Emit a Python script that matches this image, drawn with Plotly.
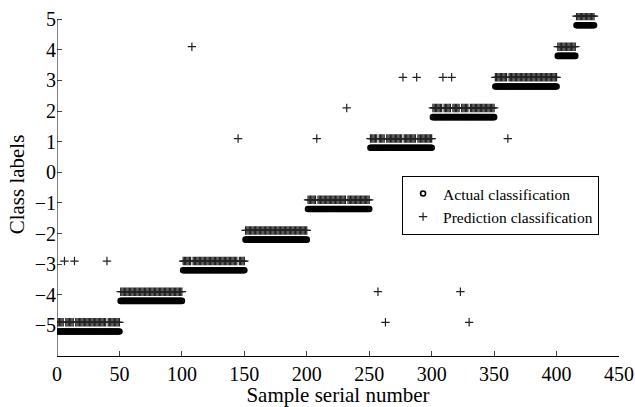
import numpy as np
import plotly.graph_objects as go

# ---- data ----
segment_classes = [-5, -4, -3, -2, -1, 1, 2, 3, 4, 5]
segment_sizes = [50, 50, 50, 50, 50, 50, 50, 50, 15, 15]

# misclassified samples (sample number -> predicted label)
wrong_samples = [6, 14, 40, 108, 145, 208, 232, 257, 263, 277, 288, 309, 316, 323, 330, 361]
wrong_predictions = [-3, -3, -3, 4, 1, 1, 2, -4, -5, 3, 3, 3, 3, -4, -5, 1]

x_ticks = [0, 50, 100, 150, 200, 250, 300, 350, 400, 450]
y_ticks = [-5, -4, -3, -2, -1, 0, 1, 2, 3, 4, 5]

# build series
actual = np.repeat(segment_classes, segment_sizes).astype(float)
samples = np.arange(1, len(actual) + 1)
predicted = actual.copy()
for s, p in zip(wrong_samples, wrong_predictions):
    predicted[s - 1] = p

# visual separation offsets (style)
ACT_OFF = -0.2
PRED_OFF = 0.1

Y_MIN, Y_MAX, Y_AXIS_TOP = -6, 5.2, 5

font_family = "Liberation Serif, Times New Roman, serif"

fig = go.Figure()
fig.add_trace(go.Scatter(
    x=samples, y=actual + ACT_OFF, mode="markers", name="Actual classification",
    marker=dict(symbol="circle-open", size=5, color="black", line=dict(width=1.6, color="black")),
))
fig.add_trace(go.Scatter(
    x=samples, y=predicted + PRED_OFF, mode="markers", name="Prediction classification",
    marker=dict(symbol="cross-thin", size=6, color="black", line=dict(width=1.2, color="#222")),
))

# left axis line ending at the top tick (5)
fig.add_shape(type="line", xref="x", yref="y", x0=0, x1=0, y0=Y_MIN, y1=Y_AXIS_TOP,
              line=dict(color="black", width=1))

fig.update_layout(
    width=635, height=407,
    margin=dict(l=57, r=16, t=13, b=51),
    plot_bgcolor="white", paper_bgcolor="white",
    font=dict(family=font_family, color="black", size=20),
    showlegend=True,
    legend=dict(
        x=0.614, y=0.525, xanchor="left", yanchor="top",
        bordercolor="black", borderwidth=1, bgcolor="white",
        font=dict(size=15.5, family=font_family),
        itemsizing="trace", tracegroupgap=0,
    ),
    xaxis=dict(
        range=[0, 450], tickvals=x_ticks, ticks="inside", ticklen=5, tickwidth=1,
        showline=True, linecolor="black", linewidth=1, showgrid=False, zeroline=False,
        automargin=False,
        tickfont=dict(size=20, family=font_family),
        title=dict(text="Sample serial number", font=dict(size=21, family=font_family), standoff=2),
    ),
    yaxis=dict(
        range=[Y_MIN, Y_MAX], tickvals=y_ticks, ticks="inside", ticklen=5, tickwidth=1,
        showline=False, showgrid=False, zeroline=False,
        automargin=False,
        tickfont=dict(size=20, family=font_family),
        title=dict(text="Class labels", font=dict(size=21, family=font_family), standoff=4),
    ),
)

# remove default page margin so the figure fills the window exactly
fig.write_html("out.html",
               config={"displayModeBar": False},
               post_script="document.body.style.margin='0px';document.body.style.overflow='hidden';")
